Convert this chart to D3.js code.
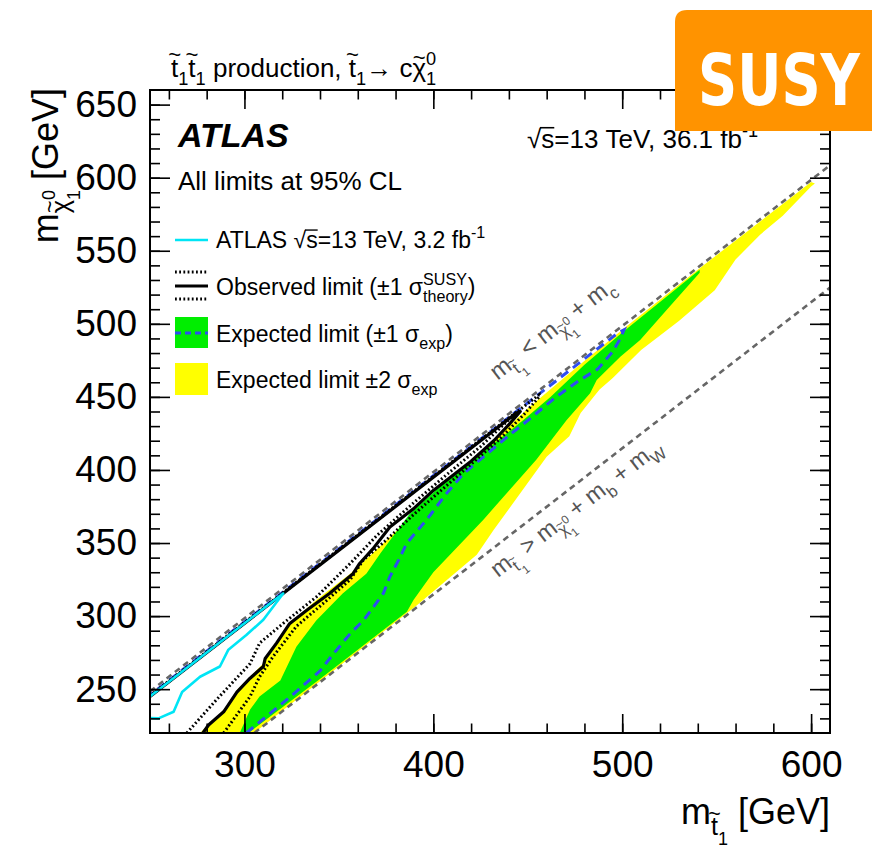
<!DOCTYPE html>
<html>
<head>
<meta charset="utf-8">
<script src="https://cdn.jsdelivr.net/npm/d3@7"></script>
<style>
  html, body { margin: 0; padding: 0; background: #fff; }
  svg { display: block; }
</style>
</head>
<body>
<div id="chart"></div>
<script>
// Stop-pair production with stop -> charm + neutralino: exclusion limits in the (m_stop, m_chi) plane.

// Axis ranges and ticks [GeV]
const xDomain = [250, 610];
const yDomain = [220, 660];
const xMajorTicks = [300, 400, 500, 600];
const yMajorTicks = [250, 300, 350, 400, 450, 500, 550, 600, 650];
const xMinorTicks = d3.range(260, 611, 20);
const yMinorTicks = d3.range(230, 660, 10);

// Particle masses for the kinematic boundaries [GeV]
const mCharm = 1.5, mBottom = 4.8, mW = 80.4;

// Expected limit, -2 sigma / +2 sigma band (outline: upper edge then lower edge), [m_stop, m_chi]
const yellowUpper = [[276.5,220],[281,226],[288,233.5],[296,249.5],[310,267.5],[324,295],[338,311],[356,329],[372,348],[390,370],[410,394],[430,418],[450,442],[470,464],[500,496],[540,537],[600,597]];
const yellowLower = [[602,596],[600,594],[585,574],[573,561],[560,544],[549,523],[530,502],[510,482],[495,463],[488,455],[478,439],[472,423],[460,409],[432,359],[423,342],[391,307],[305,220]];

// Expected limit, +-1 sigma band
const greenUpper = [[297.5,220],[303,236],[308,245],[319,256],[327.5,279],[338,297],[352,315.5],[364.5,329],[372,343],[387.5,370],[409,395],[430,416],[447.5,434],[462,450],[480,472],[500,494],[520,515],[541,537]];
const greenLower = [[541,535],[523.5,509.5],[509.5,489],[499,477.5],[486.5,461.5],[483,452.5],[470.5,434],[454.5,407],[426.5,366],[400,330],[389.5,311],[386,303],[340,257],[302,220]];

// Expected limit contour
const expectedLimit = [[301,220],[324,244.5],[340,262.5],[347,274],[356,288],[363,297],[367,304],[373.5,315.5],[377,327],[381.5,338],[386,350],[396.5,366],[407,384],[416,397.5],[426.5,409],[439,422.5],[452,436],[465,450],[477,461],[487,469],[495,481],[499,490],[501,496],[498,494],[480,476],[460,456],[440,436],[400,396],[350,346],[300,296],[248,244]];

// Observed limit contour and its +-1 sigma theory variations
const observedLimit = [[278,220],[281,225.5],[289,234.5],[296,248],[303,257.5],[310,265.5],[311,271],[317,281.5],[324,295],[333,304],[345,315.5],[357.5,329],[361,336],[368,346],[377,361],[390,374],[400,386],[420,406],[432,420],[440,431],[446,440],[444,439],[248,243]];
const observedMinus = [[269.5,220],[285,242.5],[303,267.5],[308,281.5],[320.5,295],[338,313],[356,336],[370,355],[390,378],[410,400],[425,416],[438,432],[444,439.5],[442,437.5],[248,243.5]];
const observedPlus = [[289,220],[303,245],[308,258.5],[315,272],[327.5,293],[342,309],[356,325],[363,338.5],[375,352],[390,370],[405,387],[420,404],[435,421],[448,438],[456,450],[456,451.5],[248,243.3]];

// Previous ATLAS result, 13 TeV 3.2 fb-1
const previousLimit = [[240,231],[254.5,230],[262.5,234.5],[267,248],[276.5,258.5],[287,265.5],[291.5,277],[301,287],[310,297.5],[320.5,315.5],[318,313],[240,235]];

// ---------------------------------------------------------------------------
const W = 872, H = 848;
const plot = { left: 150, right: 830, top: 90, bottom: 733 };
const FONT = "'Liberation Sans', Arial, Helvetica, sans-serif";

const svg = d3.select('#chart').append('svg')
  .attr('width', W).attr('height', H)
  .attr('viewBox', `0 0 ${W} ${H}`)
  .style('background', '#fff');

const x = d3.scaleLinear().domain(xDomain).range([plot.left, plot.right]);
const y = d3.scaleLinear().domain(yDomain).range([plot.bottom, plot.top]);

svg.append('defs').append('clipPath').attr('id', 'plotclip')
  .append('rect')
  .attr('x', plot.left).attr('y', plot.top)
  .attr('width', plot.right - plot.left).attr('height', plot.bottom - plot.top);

const area = svg.append('g').attr('clip-path', 'url(#plotclip)');
const line = d3.line().x(d => x(d[0])).y(d => y(d[1]));

// Bands
area.append('path').datum(yellowUpper.concat(yellowLower))
  .attr('d', d => line(d) + 'Z').attr('fill', '#ffff00');
area.append('path').datum(greenUpper.concat(greenLower))
  .attr('d', d => line(d) + 'Z').attr('fill', '#00ee00');

// Kinematic boundaries
const kinUpper = [[xDomain[0], xDomain[0] - mCharm], [xDomain[1], xDomain[1] - mCharm]];
const kinLower = [[yDomain[0] + mBottom + mW, yDomain[0]], [xDomain[1], xDomain[1] - mBottom - mW]];
[kinUpper, kinLower].forEach(seg => {
  area.append('path').datum(seg).attr('d', line)
    .attr('fill', 'none').attr('stroke', '#666').attr('stroke-width', 2.6)
    .attr('stroke-dasharray', '6,4.5');
});

// Expected limit
area.append('path').datum(expectedLimit).attr('d', line)
  .attr('fill', 'none').attr('stroke', '#2f4ef0').attr('stroke-width', 3)
  .attr('stroke-dasharray', '9,6');

// Observed with theory variations
[observedMinus, observedPlus].forEach(c => {
  area.append('path').datum(c).attr('d', line)
    .attr('fill', 'none').attr('stroke', '#000').attr('stroke-width', 3)
    .attr('stroke-dasharray', '1.8,2.4');
});
area.append('path').datum(observedLimit).attr('d', line)
  .attr('fill', 'none').attr('stroke', '#000').attr('stroke-width', 3.2)
  .attr('stroke-linejoin', 'round');

// Previous result
area.append('path').datum(previousLimit).attr('d', line)
  .attr('fill', 'none').attr('stroke', '#00e5f5').attr('stroke-width', 2.6)
  .attr('stroke-linejoin', 'round');

// ---------------------------------------------------------------------------
// Axes (ROOT style: ticks inside on all four sides)
function styleAxis(g) {
  g.selectAll('.tick line').attr('stroke', '#000').attr('stroke-width', 1.6);
  g.selectAll('.tick text').attr('font-family', FONT).attr('font-size', 37).attr('fill', '#000');
  g.select('.domain').remove();
}
svg.append('g').attr('transform', `translate(0,${plot.bottom})`)
  .call(d3.axisBottom(x).tickValues(xMinorTicks).tickSize(-9.5).tickFormat(''))
  .call(styleAxis);
svg.append('g').attr('transform', `translate(0,${plot.bottom})`)
  .call(d3.axisBottom(x).tickValues(xMajorTicks).tickSize(-19).tickPadding(17.5).tickFormat(d3.format('d')))
  .call(styleAxis);
svg.append('g').attr('transform', `translate(0,${plot.top})`)
  .call(d3.axisTop(x).tickValues(xMinorTicks).tickSize(-9.5).tickFormat(''))
  .call(styleAxis);
svg.append('g').attr('transform', `translate(0,${plot.top})`)
  .call(d3.axisTop(x).tickValues(xMajorTicks).tickSize(-19).tickFormat(''))
  .call(styleAxis);
svg.append('g').attr('transform', `translate(${plot.left},0)`)
  .call(d3.axisLeft(y).tickValues(yMinorTicks).tickSize(-10).tickFormat(''))
  .call(styleAxis);
svg.append('g').attr('transform', `translate(${plot.left},0)`)
  .call(d3.axisLeft(y).tickValues(yMajorTicks).tickSize(-20).tickPadding(13).tickFormat(d3.format('d')))
  .call(styleAxis);
svg.append('g').attr('transform', `translate(${plot.right},0)`)
  .call(d3.axisRight(y).tickValues(yMinorTicks).tickSize(-10).tickFormat(''))
  .call(styleAxis);
svg.append('g').attr('transform', `translate(${plot.right},0)`)
  .call(d3.axisRight(y).tickValues(yMajorTicks).tickSize(-20).tickFormat(''))
  .call(styleAxis);

svg.append('rect')
  .attr('x', plot.left).attr('y', plot.top)
  .attr('width', plot.right - plot.left).attr('height', plot.bottom - plot.top)
  .attr('fill', 'none').attr('stroke', '#000').attr('stroke-width', 2);

// ---------------------------------------------------------------------------
// Small TLatex-like text layout: sub/superscripts, tildes, overlines
function rich(parent, parts, opt) {
  const outer = parent.append('g')
    .attr('transform', `translate(${opt.x},${opt.y})` + (opt.rotate ? ` rotate(${opt.rotate})` : ''));
  const g = outer.append('g');
  const S = opt.size, fill = opt.fill || '#000';
  let cx = 0, lastStart = 0, lastEnd = 0;
  parts.forEach(p => {
    const fs = S * (p.s || 1);
    const by = (p.sh || 0) * S;
    const x0 = p.stack ? lastStart : cx;
    const t = g.append('text')
      .attr('x', x0).attr('y', by)
      .attr('font-family', FONT).attr('font-size', fs).attr('fill', fill)
      .text(p.t.replace(/ /g, '\u00A0'));
    if (p.bold) t.attr('font-weight', 'bold');
    if (p.italic) t.attr('font-style', 'italic');
    const w = t.node().getComputedTextLength();
    if (p.tilde) {
      g.append('text')
        .attr('x', x0 + w / 2 + (p.tx || 0) * fs)
        .attr('y', by - (p.th || 0.56) * fs)
        .attr('font-family', FONT).attr('font-size', fs * 0.85)
        .attr('text-anchor', 'middle').attr('fill', fill).text('~');
    }
    if (p.over) {
      g.append('line')
        .attr('x1', x0 - 0.05 * fs).attr('x2', x0 + w)
        .attr('y1', by - 0.78 * fs).attr('y2', by - 0.78 * fs)
        .attr('stroke', fill).attr('stroke-width', Math.max(1, fs * 0.06));
    }
    const x1 = x0 + w;
    if (p.stack) cx = Math.max(lastEnd, x1);
    else { lastStart = x0; lastEnd = x1; cx = x1; }
  });
  const shift = opt.anchor === 'end' ? -cx : (opt.anchor === 'middle' ? -cx / 2 : 0);
  g.attr('transform', `translate(${shift},0)`);
  return cx;
}

// Title above the frame
rich(svg, [
  { t: 't', tilde: true }, { t: '1', s: 0.7, sh: 0.3 },
  { t: 't', tilde: true }, { t: '1', s: 0.7, sh: 0.3 },
  { t: ' production, ' },
  { t: 't', tilde: true }, { t: '1', s: 0.7, sh: 0.3 },
  { t: '\u2192 c' },
  { t: '\u03C7', tilde: true, th: 0.45 }, { t: '0', s: 0.7, sh: -0.45 }, { t: '1', s: 0.7, sh: 0.3, stack: true }
], { x: 171, y: 77, size: 26 });

// Axis titles
rich(svg, [
  { t: 'm' }, { t: 't', s: 0.7, sh: 0.3, tilde: true }, { t: '1', s: 0.5, sh: 0.58 }, { t: ' [GeV]' }
], { x: plot.right, y: 824, size: 36, anchor: 'end' });

rich(svg, [
  { t: 'm' }, { t: '\u03C7', s: 0.7, sh: 0.3, tilde: true, th: 0.45 },
  { t: '0', s: 0.5, sh: -0.08 }, { t: '1', s: 0.5, sh: 0.6, stack: true }, { t: ' [GeV]' }
], { x: 58, y: plot.top - 2, size: 36, anchor: 'end', rotate: -90 });

// ATLAS label and plot info
rich(svg, [{ t: 'ATLAS', bold: true, italic: true }], { x: 178, y: 147, size: 34 });
rich(svg, [{ t: 'All limits at 95% CL' }], { x: 178, y: 190, size: 26 });
rich(svg, [
  { t: '\u221A' }, { t: 's', over: true }, { t: '=13 TeV, 36.1 fb' }, { t: '-1', s: 0.7, sh: -0.42 }
], { x: 527, y: 148, size: 26 });

// Kinematic boundary labels, along the lines
const slopeAngle = Math.atan2(y(400) - y(300), x(400) - x(300)) * 180 / Math.PI;
const grey = '#555';
rich(svg, [
  { t: 'm' }, { t: 't', s: 0.7, sh: 0.3, tilde: true }, { t: '1', s: 0.5, sh: 0.6 },
  { t: ' < m' }, { t: '\u03C7', s: 0.7, sh: 0.3, tilde: true, th: 0.45 },
  { t: '0', s: 0.5, sh: -0.05 }, { t: '1', s: 0.5, sh: 0.62, stack: true },
  { t: ' + m' }, { t: 'c', s: 0.7, sh: 0.3 }
], { x: x(434), y: y(461), size: 24, fill: grey, rotate: slopeAngle });
rich(svg, [
  { t: 'm' }, { t: 't', s: 0.7, sh: 0.3, tilde: true }, { t: '1', s: 0.5, sh: 0.6 },
  { t: ' > m' }, { t: '\u03C7', s: 0.7, sh: 0.3, tilde: true, th: 0.45 },
  { t: '0', s: 0.5, sh: -0.05 }, { t: '1', s: 0.5, sh: 0.62, stack: true },
  { t: ' + m' }, { t: 'b', s: 0.7, sh: 0.3 }, { t: ' + m' }, { t: 'W', s: 0.7, sh: 0.3 }
], { x: x(434.2), y: y(326), size: 23.5, fill: grey, rotate: slopeAngle });

// Legend
const leg = svg.append('g');
const lx0 = 175, lx1 = 208, ltx = 216, legSize = 23;
leg.append('line').attr('x1', lx0).attr('x2', lx1).attr('y1', 240).attr('y2', 240)
  .attr('stroke', '#00e5f5').attr('stroke-width', 2.6);
rich(leg, [
  { t: 'ATLAS ' }, { t: '\u221A' }, { t: 's', over: true }, { t: '=13 TeV, 3.2 fb' }, { t: '-1', s: 0.7, sh: -0.42 }
], { x: ltx, y: 248, size: legSize });

leg.append('line').attr('x1', lx0).attr('x2', lx1).attr('y1', 272).attr('y2', 272)
  .attr('stroke', '#000').attr('stroke-width', 3).attr('stroke-dasharray', '1.8,2.4');
leg.append('line').attr('x1', lx0).attr('x2', lx1).attr('y1', 286).attr('y2', 286)
  .attr('stroke', '#000').attr('stroke-width', 3.2);
leg.append('line').attr('x1', lx0).attr('x2', lx1).attr('y1', 299).attr('y2', 299)
  .attr('stroke', '#000').attr('stroke-width', 3).attr('stroke-dasharray', '1.8,2.4');
rich(leg, [
  { t: 'Observed limit (\u00B11 \u03C3' }, { t: 'SUSY', s: 0.7, sh: -0.45 }, { t: 'theory', s: 0.7, sh: 0.32, stack: true }, { t: ')' }
], { x: ltx, y: 295, size: legSize });

leg.append('rect').attr('x', lx0).attr('y', 317).attr('width', lx1 - lx0).attr('height', 31).attr('fill', '#00ee00');
leg.append('line').attr('x1', lx0).attr('x2', lx1).attr('y1', 333).attr('y2', 333)
  .attr('stroke', '#2f4ef0').attr('stroke-width', 3).attr('stroke-dasharray', '6,4');
rich(leg, [
  { t: 'Expected limit (\u00B11 \u03C3' }, { t: 'exp', s: 0.7, sh: 0.3 }, { t: ')' }
], { x: ltx, y: 342, size: legSize });

leg.append('rect').attr('x', lx0).attr('y', 363).attr('width', lx1 - lx0).attr('height', 32).attr('fill', '#ffff00');
rich(leg, [
  { t: 'Expected limit \u00B12 \u03C3' }, { t: 'exp', s: 0.7, sh: 0.3 }
], { x: ltx, y: 388, size: legSize });

// SUSY badge
const bx0 = 675, by0 = 10, bx1 = W, by1 = 131, br = 12;
svg.append('path')
  .attr('d', `M${bx0},${by1} V${by0 + br} Q${bx0},${by0} ${bx0 + br},${by0} H${bx1} V${by1} Z`)
  .attr('fill', '#ff9300');
svg.append('text')
  .attr('x', 698).attr('y', 105)
  .attr('font-family', "'DejaVu Sans Condensed', 'DejaVu Sans', sans-serif")
  .attr('font-weight', 'bold').attr('font-size', 72)
  .attr('textLength', 162).attr('lengthAdjust', 'spacingAndGlyphs')
  .attr('fill', '#fff').text('SUSY');
</script>
</body>
</html>
